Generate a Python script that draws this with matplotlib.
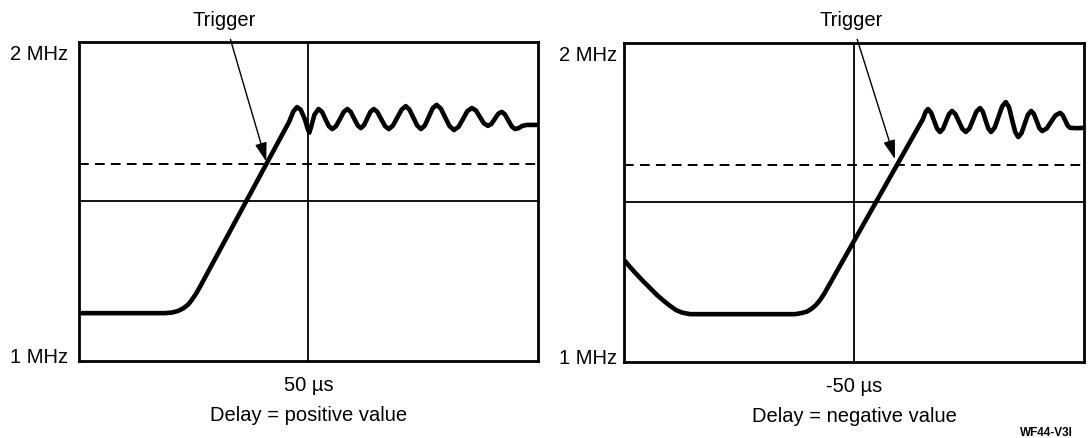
import matplotlib.pyplot as plt

plt.rcParams['font.family'] = ['Liberation Sans', 'DejaVu Sans']

# left panel: delay = positive value (time in us, frequency in MHz)
pos_time = [0, 18.78, 20.31, 21.62, 22.71, 23.80, 24.67, 25.55, 26.42, 45.8, 46.7, 47.5, 48.3,
            49.2, 49.9, 50.2, 50.6, 51.3, 52.2, 52.95, 53.7, 54.45, 55.2, 56.0, 56.85, 57.7,
            58.5, 59.2, 59.95, 60.7, 61.4, 62.1, 62.8, 63.5, 64.2, 65.0, 65.85, 66.7, 67.5,
            68.4, 69.35, 70.3, 71.2, 72.0, 72.85, 73.7, 74.5, 75.35, 76.2, 77.05, 77.9, 78.85,
            79.8, 80.75, 81.7, 82.7, 83.65, 84.6, 85.6, 86.5, 87.35, 88.2, 89.1, 89.85, 90.6,
            91.35, 92.1, 92.8, 93.55, 94.3, 95.0, 95.8, 96.6, 97.6, 100]
pos_freq = [1.150, 1.150, 1.152, 1.157, 1.165, 1.177, 1.193, 1.212, 1.234, 1.750, 1.782, 1.796,
            1.788, 1.758, 1.725, 1.716, 1.735, 1.772, 1.790, 1.781, 1.758, 1.736, 1.727, 1.736,
            1.758, 1.781, 1.790, 1.781, 1.760, 1.739, 1.730, 1.739, 1.760, 1.781, 1.790, 1.781,
            1.758, 1.736, 1.727, 1.738, 1.763, 1.788, 1.799, 1.788, 1.763, 1.738, 1.727, 1.738,
            1.765, 1.792, 1.803, 1.791, 1.763, 1.736, 1.724, 1.734, 1.758, 1.783, 1.793, 1.785,
            1.765, 1.745, 1.737, 1.743, 1.759, 1.775, 1.781, 1.773, 1.754, 1.735, 1.727, 1.730,
            1.737, 1.740, 1.740]

# right panel: delay = negative value
neg_time = [-100, -98.70, -97.39, -95.87, -94.35, -92.83, -91.30, -90.0, -88.70, -87.39, -85.65,
            -62.83, -61.52, -60.22, -59.13, -58.26, -57.39, -56.52, -55.65, -35.0, -34.4,
            -33.9, -33.25, -32.6, -31.95, -31.3, -30.65, -30.0, -29.35, -28.7, -27.95, -27.2,
            -26.45, -25.7, -24.9, -24.15, -23.4, -22.6, -22.0, -21.4, -20.8, -20.2, -19.4,
            -18.6, -17.8, -17.0, -16.3, -15.65, -14.95, -14.3, -13.6, -12.9, -12.2, -11.5,
            -10.9, -10.3, -9.7, -9.1, -8.1, -7.15, -6.2, -5.2, -4.65, -4.1, -3.55, -3.0, -1.5, 0]
neg_freq = [1.320, 1.298, 1.277, 1.254, 1.232, 1.210, 1.191, 1.176, 1.163, 1.155, 1.150,
            1.150, 1.153, 1.158, 1.168, 1.179, 1.194, 1.213, 1.235, 1.762, 1.785,
            1.793, 1.782, 1.757, 1.732, 1.721, 1.731, 1.754, 1.777, 1.787, 1.777, 1.754, 1.731,
            1.721, 1.732, 1.758, 1.785, 1.796, 1.785, 1.758, 1.732, 1.721, 1.735, 1.768, 1.801,
            1.815, 1.799, 1.760, 1.721, 1.705, 1.717, 1.746, 1.775, 1.787, 1.778, 1.756, 1.733,
            1.724, 1.732, 1.753, 1.773, 1.781, 1.774, 1.758, 1.741, 1.734, 1.733, 1.734]

trigger_level = 1.6176
center_freq = 1.5
freq_range = [1, 2]
freq_labels = ['1 MHz', '2 MHz']
pos_delay = 50
neg_delay = -50
pos_trigger = (40.8, 1.625)
neg_trigger = (-41.1, 1.636)
pos_trigger_text = (31.7, 2.072)
neg_trigger_text = (-50.7, 2.075)

fig = plt.figure(figsize=(10.89, 4.39), dpi=100)
ax1 = fig.add_axes([0.0725, 0.1754, 0.4215, 0.7267])
ax2 = fig.add_axes([0.573, 0.1731, 0.4224, 0.7267])

panels = [
    (ax1, pos_time, pos_freq, (0, 100), pos_delay, 'Delay = positive value', pos_trigger,
     pos_trigger_text, -8, [2.9, -8.6]),
    (ax2, neg_time, neg_freq, (-100, 0), neg_delay, 'Delay = negative value', neg_trigger,
     neg_trigger_text, -5, [3.6, -8]),
]

for ax, t, f, xlim, delay, xlabel, trig, trig_text, lab_dx, lab_dy in panels:
    ax.set_xlim(*xlim)
    ax.set_ylim(*freq_range)
    ax.axvline(delay, color='black', lw=1.3, zorder=1)
    ax.axhline(center_freq, color='black', lw=1.3, zorder=1)
    ax.axhline(trigger_level, color='black', lw=1.4, ls=(0, (5, 3.2)), zorder=1)
    ax.plot(t, f, color='black', lw=3.3, solid_joinstyle='round', solid_capstyle='butt',
            zorder=3)

    for s in ax.spines.values():
        s.set_linewidth(2.0)
    ax.set_yticks([])
    ax.set_xticks([delay], [f'{delay} µs'])
    ax.tick_params(axis='x', length=0, pad=10, labelsize=14.5)
    ax.set_xlabel(xlabel, fontsize=14.5, labelpad=8)

    for val, lab, dy in zip(freq_range, freq_labels, lab_dy):
        ax.annotate(lab, xy=(0, val), xycoords=ax.get_yaxis_transform(),
                    xytext=(lab_dx, dy), textcoords='offset points',
                    ha='right', va='center', fontsize=14.5)

    ax.annotate('Trigger', xy=trig, xytext=trig_text, ha='center', va='center',
                fontsize=14.5, annotation_clip=False,
                arrowprops=dict(arrowstyle='-|>,head_length=1.15,head_width=0.36',
                                mutation_scale=10, color='black', lw=1.0,
                                shrinkA=6, shrinkB=0))

fig.text(0.9605, 0.014, 'WF44-V3I', ha='center', va='center', fontsize=8.5,
         fontweight='bold')

fig.savefig('out.png', dpi=100)
